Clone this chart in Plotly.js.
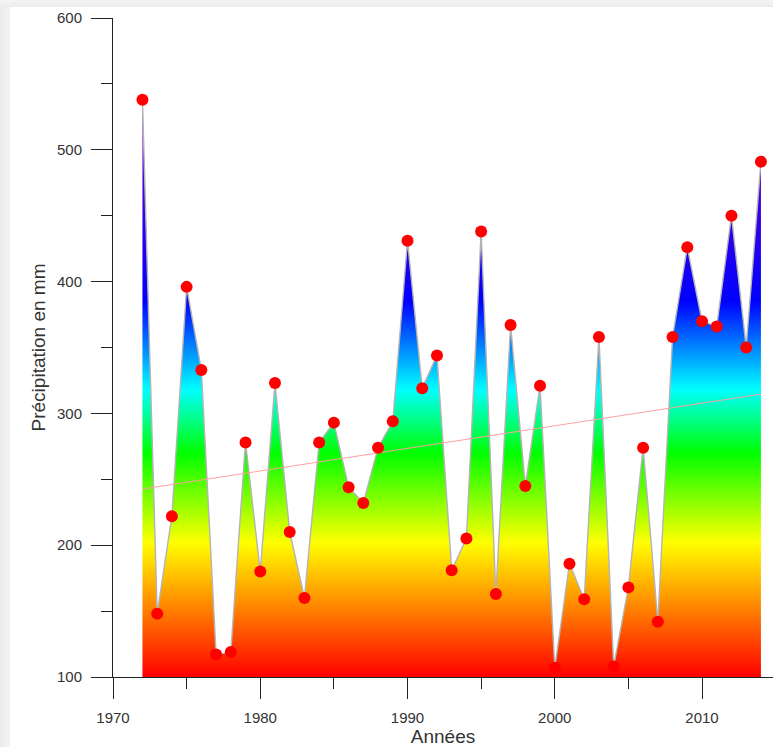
<!DOCTYPE html>
<html>
<head>
<meta charset="utf-8">
<script src="https://cdn.plot.ly/plotly-3.0.1.min.js"></script>
<style>
  html, body { margin: 0; padding: 0; }
  body { width: 773px; height: 747px; background: linear-gradient(to right, #ececec, #f3f3f3 10px); position: relative; overflow: hidden; }
  #topband { position: absolute; left: 0; top: 0; width: 773px; height: 7px; background: linear-gradient(to bottom, #f4f4f4, #ebebeb); }
  #chart { position: absolute; left: 10px; top: 7px; width: 763px; height: 740px; background: #fff; }
</style>
</head>
<body>
<div id="topband"></div>
<div id="chart"></div>
<script>
// Years of observation
const years = [1972, 1973, 1974, 1975, 1976, 1977, 1978, 1979, 1980, 1981,
               1982, 1983, 1984, 1985, 1986, 1987, 1988, 1989, 1990, 1991,
               1992, 1993, 1994, 1995, 1996, 1997, 1998, 1999, 2000, 2001,
               2002, 2003, 2004, 2005, 2006, 2007, 2008, 2009, 2010, 2011,
               2012, 2013, 2014];
// Annual precipitation (mm)
const precipitation = [538, 148, 222, 396, 333, 117, 119, 278, 180, 323,
                       210, 160, 278, 293, 244, 232, 274, 294, 431, 319,
                       344, 181, 205, 438, 163, 367, 245, 321, 107, 186,
                       159, 358, 108, 168, 274, 142, 358, 426, 370, 366,
                       450, 350, 491];
// Linear trend end points
const trendYears = [1972, 2014];
const trendValues = [242.6, 314.6];
// Colour ramp (value -> colour) for the area
const rampValues = [100, 202, 270, 318, 385, 540];
const rampColors = ['#ff0000', '#ffff00', '#00ff00', '#00ffff', '#0000ff', '#8000c8'];
// Axis titles
const xTitle = 'Années';
const yTitle = 'Précipitation en mm';

const gStart = rampValues[0], gStop = rampValues[rampValues.length - 1];
const colorscale = rampValues.map((v, i) => [(v - gStart) / (gStop - gStart), rampColors[i]]);

const family = 'Arial, "Liberation Sans", sans-serif';
const tickFont = { family: family, size: 15, color: '#333' };
const titleFont = { family: family, size: 19, color: '#333' };

const traces = [
  {
    x: years, y: precipitation, type: 'scatter', mode: 'lines',
    fill: 'tozeroy',
    fillgradient: { type: 'vertical', colorscale: colorscale, start: gStart, stop: gStop },
    line: { color: 'rgb(180,180,180)', width: 1.4 },
    hoverinfo: 'skip'
  },
  {
    x: trendYears, y: trendValues, type: 'scatter', mode: 'lines',
    line: { color: 'rgb(255,160,160)', width: 1 }
  },
  {
    x: years, y: precipitation, type: 'scatter', mode: 'markers',
    marker: { color: '#ff0000', size: 12, line: { width: 0 } }
  }
];

const axisCommon = {
  showgrid: false, zeroline: false, showline: true, linecolor: '#222', linewidth: 1,
  ticks: 'outside', ticklen: 21, tickwidth: 1, tickcolor: '#222',
  tickfont: tickFont, automargin: false
};

const layout = {
  width: 763, height: 740,
  margin: { l: 103, r: 0, t: 11, b: 70 },
  paper_bgcolor: '#ffffff', plot_bgcolor: '#ffffff',
  showlegend: false,
  font: tickFont,
  xaxis: Object.assign({}, axisCommon, {
    range: [1970, 2014.82], tick0: 1970, dtick: 10,
    ticklabelstandoff: 6,
    minor: { dtick: 5, tick0: 1970, ticks: 'outside', ticklen: 11, tickwidth: 1, tickcolor: '#222' },
    title: { text: xTitle, font: titleFont, standoff: 5 }
  }),
  yaxis: Object.assign({}, axisCommon, {
    range: [100, 600], tick0: 100, dtick: 100,
    ticklabelstandoff: 6,
    minor: { dtick: 50, tick0: 100, ticks: 'outside', ticklen: 11, tickwidth: 1, tickcolor: '#222' },
    title: { text: yTitle, font: titleFont, standoff: 6 }
  })
};

Plotly.newPlot('chart', traces, layout, { displayModeBar: false, staticPlot: true });
</script>
</body>
</html>
